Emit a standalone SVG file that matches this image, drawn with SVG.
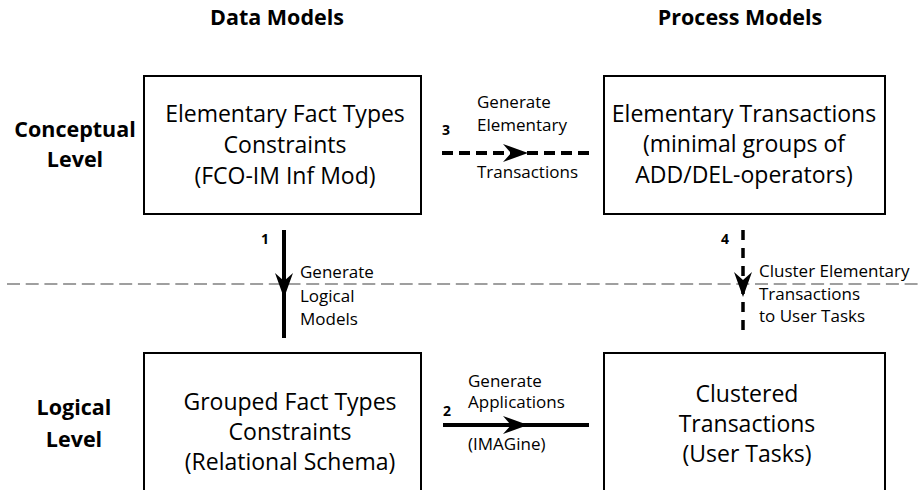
<svg xmlns="http://www.w3.org/2000/svg" width="920" height="490" viewBox="0 0 920 490">
<style>
text{font-family:"Open Sans",Lato,"Liberation Sans",sans-serif;fill:#000}
.hd{font-size:21.5px;font-weight:bold;text-anchor:middle}
.box{fill:#fff;stroke:#000;stroke-width:2}
.bt{font-size:23px;text-anchor:middle}
.lb{font-size:17px}
.num{font-size:14px;font-weight:bold}
.solid{stroke:#000;stroke-width:4;fill:none}
.dash{stroke:#000;stroke-width:4;fill:none;stroke-dasharray:11 6}
.dashv{stroke:#000;stroke-width:3.5;fill:none;stroke-dasharray:10 8}
.sep{stroke:#808080;stroke-width:1.5;stroke-dasharray:13 5.7;fill:none}
</style>
<defs>
<path id="ah" d="M0,0 L-25,-9 L-17,0 L-25,9 Z" fill="#000"/>
</defs>
<g id="headers">
<text class="hd" x="277" y="25">Data Models</text>
<text class="hd" x="740" y="25">Process Models</text>
<text class="hd" x="75" y="137">Conceptual</text>
<text class="hd" x="75" y="167">Level</text>
<text class="hd" x="74" y="415">Logical</text>
<text class="hd" x="74" y="447">Level</text>
</g>
<line class="sep" x1="7" y1="284" x2="920" y2="284"/>
<g id="connectors">
<g id="c1">
<line class="solid" x1="284" y1="230" x2="284" y2="338"/>
<use href="#ah" transform="translate(284,298) rotate(90)"/>
<text class="num" x="261" y="244">1</text>
<text class="lb" x="300" y="278">Generate</text>
<text class="lb" x="300" y="302">Logical</text>
<text class="lb" x="300" y="325">Models</text>
</g>
<g id="c2">
<line class="solid" x1="443" y1="425" x2="589" y2="425"/>
<use href="#ah" transform="translate(528,425)"/>
<text class="num" x="443" y="416">2</text>
<text class="lb" x="468" y="387">Generate</text>
<text class="lb" x="468" y="408">Applications</text>
<text class="lb" x="468" y="450">(IMAGine)</text>
</g>
<g id="c3">
<line class="dash" x1="442" y1="153" x2="590" y2="153"/>
<use href="#ah" transform="translate(528,153)"/>
<text class="num" x="442" y="135">3</text>
<text class="lb" x="477" y="108">Generate</text>
<text class="lb" x="477" y="131">Elementary</text>
<text class="lb" x="477" y="178">Transactions</text>
</g>
<g id="c4">
<line class="dashv" x1="743" y1="230" x2="743" y2="338"/>
<use href="#ah" transform="translate(743,297) rotate(90)"/>
<text class="num" x="721" y="244">4</text>
<text class="lb" x="759" y="277">Cluster Elementary</text>
<text class="lb" x="759" y="300">Transactions</text>
<text class="lb" x="759" y="322">to User Tasks</text>
</g>
</g>
<g id="n1">
<rect class="box" x="144" y="76" width="277" height="138"/>
<text class="bt" x="285" y="122">Elementary Fact Types</text>
<text class="bt" x="285" y="153">Constraints</text>
<text class="bt" x="285" y="184">(FCO-IM Inf Mod)</text>
</g>
<g id="n2">
<rect class="box" x="604" y="76" width="281" height="138"/>
<text class="bt" x="744" y="122">Elementary Transactions</text>
<text class="bt" x="744" y="152">(minimal groups of</text>
<text class="bt" x="744" y="183">ADD/DEL-operators)</text>
</g>
<g id="n3">
<rect class="box" x="144" y="353" width="277" height="160"/>
<text class="bt" x="290" y="410">Grouped Fact Types</text>
<text class="bt" x="290" y="440">Constraints</text>
<text class="bt" x="290" y="470">(Relational Schema)</text>
</g>
<g id="n4">
<rect class="box" x="604" y="353" width="281" height="160"/>
<text class="bt" x="747" y="402">Clustered</text>
<text class="bt" x="747" y="432">Transactions</text>
<text class="bt" x="747" y="462">(User Tasks)</text>
</g>
</svg>
